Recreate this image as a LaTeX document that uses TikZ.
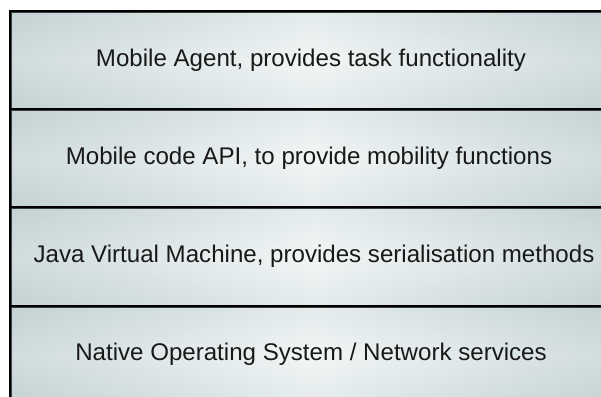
\documentclass[tikz,border=0pt]{standalone}
\usepackage{fontspec}
\setmainfont{Liberation Sans}
\definecolor{edgec}{RGB}{196,210,212}
\definecolor{midc}{RGB}{242,246,246}
\tikzset{
  layer/.style={rectangle, draw=black, line width=1.6pt, minimum width=604pt, minimum height=98pt,
    inner sep=0pt, anchor=north west, left color=edgec, right color=edgec, middle color=midc},
  fadeband/.style={top color=edgec, bottom color=edgec, middle color=midc, opacity=0.3},
  label/.style={font=\fontsize{24.1}{28}\selectfont, text=black!90}
}
\begin{document}
\begin{tikzpicture}[x=1pt,y=1pt]
\useasboundingbox (0,0) rectangle (601,396);
\clip (0,0) rectangle (601,396);
\fill[white] (0,0) rectangle (601,396);
\node[layer] (a) at (10,385) {};
\node[layer] (b) at (10,287) {};
\node[layer] (c) at (10,189) {};
\node[layer] (d) at (10,90) {};
\foreach \n in {a,b,c,d}{
  \shade[fadeband] (\n.south west) rectangle (\n.north east);
  \draw[line width=1.6pt] (\n.south west) rectangle (\n.north east);
}
\node[label] (ta) at (311,336) {Mobile Agent, provides task functionality};
\node[label] (tb) at (309,238) {Mobile code API, to provide mobility functions};
\node[label] (tc) at (314,140) {Java Virtual Machine, provides serialisation methods};
\node[label] (td) at (311,42) {Native Operating System / Network services};
\end{tikzpicture}
\end{document}
